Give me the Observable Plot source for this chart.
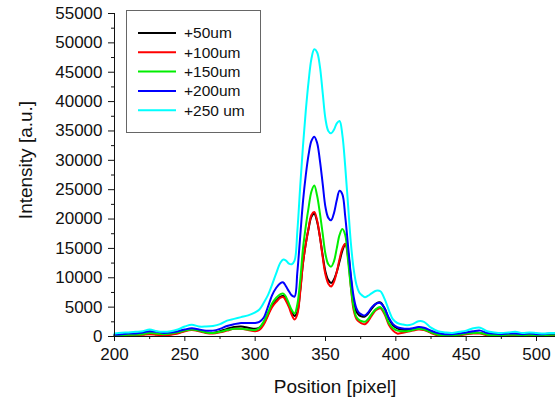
<!DOCTYPE html>
<html>
<head>
<meta charset="utf-8">
<script src="https://cdn.jsdelivr.net/npm/d3@7"></script>
<script src="https://cdn.jsdelivr.net/npm/@observablehq/plot@0.6"></script>
<style>
  html, body { margin: 0; padding: 0; background: #fff; }
  svg { display: block; }
</style>
</head>
<body>
<div id="chart"></div>
<script>
const positions = [200,205,210,215,220,225,230,235,240,245,250,255,260,265,270,275,280,285,290,295,300,
  303,306,309,312,315,318,
  320,322,324,326,328,330,332,334,336,338,340,342,344,346,348,350,352,354,356,358,360,362,364,366,368,370,372,374,376,378,380,
  383,386,389,392,395,398,401,404,
  408,412,416,420,
  425,430,435,440,445,450,455,460,465,470,475,480,485,490,495,500,505,510,513];

const s50 = [200,250,300,300,400,500,400,300,400,600,1000,1200,1000,700,600,900,1300,1600,1700,1500,1300,
  1500,2300,3700,5200,6100,6800,
  6900,6300,5300,4200,3500,4200,7800,12500,15800,18400,20400,20900,19600,17000,13800,11000,9600,9100,9700,11000,12800,14600,15700,14300,10000,5800,4200,3600,3400,3400,3800,
  4800,5600,5800,4800,3000,1900,1400,1200,
  1100,1200,1300,1200,
  700,300,200,200,300,500,600,600,300,200,200,300,300,200,300,200,200,300,300];

const s100 = [100,150,200,250,300,400,300,200,300,500,900,1100,900,600,500,700,1000,1300,1300,1100,900,
  1100,2000,3500,5000,5900,6600,
  6700,6000,5000,3700,2900,3800,7500,12500,15800,18500,20700,21200,19800,17000,13500,10500,9000,8500,9300,11000,13200,15000,15800,13500,8500,4500,3000,2500,2200,2100,2500,
  3600,4500,4800,3800,2000,1000,500,600,
  800,1000,1200,1100,
  600,200,100,100,200,400,500,500,200,100,100,200,200,100,200,100,150,200,200];

const s150 = [200,200,300,300,400,600,500,400,500,700,1000,1200,1000,700,600,800,1100,1300,1300,1200,1100,
  1500,2500,4000,5600,6600,7200,
  7300,6700,5600,4500,3900,5500,9500,15000,18800,22000,24700,25700,24000,21000,17500,14000,12300,11900,12800,15000,17300,18300,17300,13000,8500,5000,3300,2800,2600,2500,2900,
  3900,4700,5000,4000,2300,1400,1000,900,
  900,1100,1300,1200,
  700,300,200,200,300,500,600,600,300,200,200,300,300,200,300,200,200,300,300];

const s200 = [300,400,500,500,700,900,800,600,700,900,1200,1400,1200,1000,1000,1300,1800,2100,2300,2300,2300,
  2500,3200,5000,7000,8300,9100,
  9200,8500,7700,7000,6800,11000,17000,23000,27500,31000,33300,34000,33000,30000,26000,22000,20200,19800,21000,23200,24800,24200,20500,15500,10500,6800,4800,4000,3700,3600,4000,
  5000,5600,5700,4800,3200,2100,1600,1400,
  1300,1400,1600,1500,
  1000,600,400,400,500,700,900,1000,600,500,400,500,500,400,500,400,400,500,500];

const s250 = [500,650,700,800,900,1200,900,800,900,1200,1700,2000,1700,1700,1800,2100,2700,3000,3300,3600,4100,
  4600,5700,7000,8800,10800,12600,
  13100,12900,12400,12300,12900,18000,25500,32500,38500,43500,47300,48900,48400,46000,41500,37000,35000,34600,35200,36300,36700,34300,29000,22500,16000,11500,8800,7500,7000,6700,6900,
  7400,7800,7700,6400,4500,2900,2300,2100,
  1900,2100,2600,2500,
  1500,900,700,600,800,1000,1400,1500,900,700,600,700,800,600,700,600,500,600,600];

const seriesNames = ["+50um", "+100um", "+150um", "+200um", "+250 um"];
const seriesColors = ["#000000", "#ff0000", "#00ee00", "#0000ff", "#00ffff"];
const seriesValues = [s50, s100, s150, s200, s250];

const xTicks = [200, 250, 300, 350, 400, 450, 500];
const xMinorTicks = [225, 275, 325, 375, 425, 475];
const yTicks = [0, 5000, 10000, 15000, 20000, 25000, 30000, 35000, 40000, 45000, 50000, 55000];
const yMinorTicks = [2500, 7500, 12500, 17500, 22500, 27500, 32500, 37500, 42500, 47500, 52500];

const rows = [];
seriesNames.forEach((name, i) => {
  positions.forEach((p, j) => rows.push({series: name, order: i, x: p, y: seriesValues[i][j]}));
});

const lineMarks = seriesNames.map((name, i) =>
  Plot.line(rows.filter(d => d.series === name), {
    x: "x", y: "y", stroke: seriesColors[i], strokeWidth: 2, curve: "catmull-rom"
  })
);

const chart = Plot.plot({
  width: 555,
  height: 398,
  marginLeft: 114,
  marginRight: 0,
  marginTop: 13,
  marginBottom: 62,
  style: {fontFamily: "'Liberation Sans', Arial, sans-serif", fontSize: "17px", color: "#111", background: "#fff", overflow: "visible"},
  x: {domain: [200, 513.5]},
  y: {domain: [0, 55000]},
  marks: [
    ...lineMarks,
    Plot.ruleX([200], {stroke: "#111", strokeWidth: 1}),
    Plot.ruleY([0], {stroke: "#111", strokeWidth: 1}),
    Plot.axisX({ticks: xTicks, tickSize: 5, tickPadding: 6, label: null, fontSize: 17, stroke: "#111"}),
    Plot.axisX({ticks: xMinorTicks, tickSize: 3, text: null, label: null, stroke: "#111"}),
    Plot.axisY({ticks: yTicks, tickSize: 6, tickPadding: 6, label: null, fontSize: 17, stroke: "#111", tickFormat: d => String(d)}),
    Plot.axisY({ticks: yMinorTicks, tickSize: 3, text: null, label: null, stroke: "#111"}),
    Plot.text(["Position [pixel]"], {frameAnchor: "bottom", lineAnchor: "middle", textAnchor: "middle", dy: 50, fontSize: 19, fill: "#111"}),
    Plot.text(["Intensity [a.u.]"], {frameAnchor: "left", lineAnchor: "middle", textAnchor: "middle", dx: -89, dy: -15, rotate: -90, fontSize: 19, fill: "#111"})
  ]
});

document.getElementById("chart").appendChild(chart);

// Legend box inside the SVG
const svg = d3.select(chart);
const lg = svg.append("g").attr("class", "legend");
lg.append("rect").attr("x", 126.5).attr("y", 10.5).attr("width", 134).attr("height", 122)
  .attr("fill", "#fff").attr("stroke", "#666").attr("stroke-width", 1);
seriesNames.forEach((name, i) => {
  const y = 33 + i * 19.3;
  lg.append("line").attr("x1", 138).attr("x2", 176).attr("y1", y).attr("y2", y)
    .attr("stroke", seriesColors[i]).attr("stroke-width", 2);
  lg.append("text").attr("x", 184).attr("y", y).attr("dy", "0.35em")
    .attr("text-anchor", "start")
    .attr("font-size", 15.5).attr("fill", "#111")
    .attr("font-family", "'Liberation Sans', Arial, sans-serif").text(name);
});
</script>
</body>
</html>
